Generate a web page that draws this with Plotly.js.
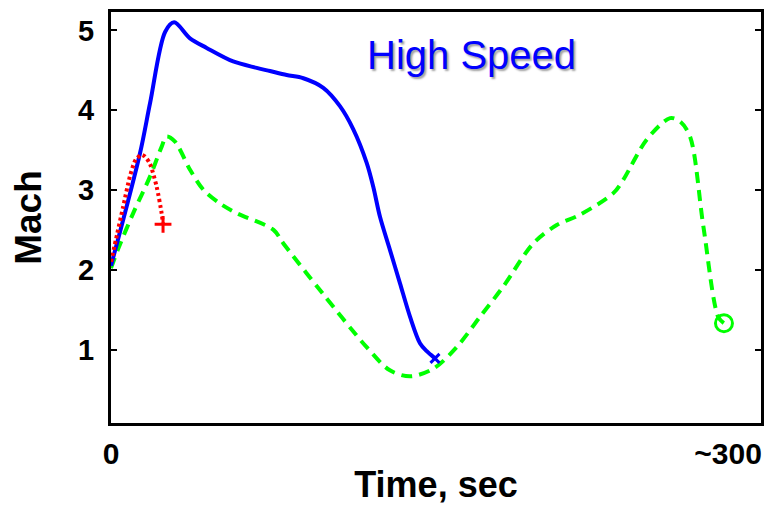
<!DOCTYPE html>
<html>
<head>
<meta charset="utf-8">
<script src="https://cdn.plot.ly/plotly-3.0.1.min.js"></script>
<style>html,body{margin:0;padding:0;background:#fff;}</style>
</head>
<body>
<div id="chart" style="width:765px;height:505px;"></div>
<script>
// Blue (solid) trajectory
const blueT = [0, 14.1, 19, 26.3, 30.7, 38.4, 46.5, 59.4, 70.8, 77.3, 85.4, 93.5, 103.2, 111.3, 117.8, 124.3, 127.5, 130.8, 135.6, 140.5, 145.4, 150.2, 153.5, 157.5];
const blueM = [2.05, 3.46, 4.09, 4.98, 5.10, 4.90, 4.78, 4.61, 4.53, 4.49, 4.44, 4.40, 4.28, 4.05, 3.76, 3.34, 3.04, 2.66, 2.25, 1.83, 1.41, 1.08, 0.98, 0.89];
// Red (dotted) trajectory
const redT = [0, 3, 5.9, 9.2, 12, 14.9, 16.5, 18.9, 22.2, 24.6, 25.3];
const redM = [2.1, 2.45, 2.79, 3.17, 3.38, 3.44, 3.42, 3.33, 3.04, 2.71, 2.57];
// Green (dashed) trajectory
const greenT = [0, 3.6, 10.8, 19, 24.6, 27, 31, 38.5, 45, 53, 61, 79, 83.8, 103, 124.3, 135.6, 145.4, 156.7, 168, 179.4, 190.7, 205.3, 216.7, 228, 244.2, 249.1, 260.4, 271.8, 276.6, 281.5, 288, 295.2, 298];
const greenM = [2.02, 2.27, 2.71, 3.17, 3.54, 3.67, 3.61, 3.25, 3.0, 2.83, 2.71, 2.50, 2.33, 1.70, 1.03, 0.74, 0.665, 0.76, 1.03, 1.41, 1.79, 2.33, 2.56, 2.69, 2.96, 3.13, 3.63, 3.90, 3.86, 3.67, 2.54, 1.41, 1.33];
// Axis ticks
const yTicks = [1, 2, 3, 4, 5];
const xTickVals = [0, 300];
const xTickText = ["0", "~300"];

const last = a => [a[a.length - 1]];
const FONT = "Liberation Sans, Arial, Helvetica, sans-serif";

const traces = [
  {x: greenT, y: greenM, mode: "lines", line: {color: "#00ff00", width: 4, dash: "11px,7px", shape: "spline", smoothing: 0.9}, hoverinfo: "skip"},
  {x: blueT, y: blueM, mode: "lines", line: {color: "#0000ff", width: 4, shape: "spline", smoothing: 0.9}, hoverinfo: "skip"},
  {x: redT, y: redM, mode: "lines", line: {color: "#ff0000", width: 4, dash: "3px,3px", shape: "spline", smoothing: 0.7}, hoverinfo: "skip"},
  {x: last(blueT), y: last(blueM), mode: "markers", marker: {symbol: "x-thin-open", size: 9, color: "#0000ff", line: {color: "#0000ff", width: 3}}, hoverinfo: "skip"},
  {x: last(redT), y: last(redM), mode: "markers", marker: {symbol: "cross-thin-open", size: 12, color: "#ff0000", line: {color: "#ff0000", width: 3}}, hoverinfo: "skip"},
  {x: last(greenT), y: last(greenM), mode: "markers", marker: {symbol: "circle-open", size: 17, color: "#00ff00", line: {color: "#00ff00", width: 3}}, hoverinfo: "skip"}
];

const layout = {
  width: 765, height: 505,
  margin: {l: 111, r: 4, t: 12, b: 82},
  paper_bgcolor: "#fff", plot_bgcolor: "#fff",
  showlegend: false,
  font: {family: FONT, color: "#000"},
  xaxis: {
    range: [0, 316], tickvals: xTickVals, ticktext: xTickText,
    showgrid: false, zeroline: false,
    showline: true, linecolor: "#000", linewidth: 3, mirror: true,
    ticks: "",
    tickfont: {family: FONT, size: 30, weight: "bold", color: "#000"},
    ticklabelstandoff: 2,
    title: {text: "Time, sec", font: {family: FONT, size: 36, weight: "bold", color: "#000"}, standoff: 10},
    fixedrange: true
  },
  yaxis: {
    range: [0.08, 5.23], tickvals: yTicks,
    showgrid: false, zeroline: false,
    showline: true, linecolor: "#000", linewidth: 3, mirror: "ticks",
    ticks: "inside", ticklen: 6, tickwidth: 2, tickcolor: "#000",
    tickfont: {family: FONT, size: 29, weight: "bold", color: "#000"},
    ticklabelstandoff: 8,
    title: {text: "Mach", font: {family: FONT, size: 37, weight: "bold", color: "#000"}, standoff: 26},
    fixedrange: true
  },
  annotations: [
    {xref: "paper", yref: "paper", x: 0.554, y: 0.895, xanchor: "center", yanchor: "middle", showarrow: false,
     text: "High Speed", font: {family: FONT, size: 40, color: "#0000ff", shadow: "2px 2px 2px #a0a0a0"}}
  ]
};

Plotly.newPlot("chart", traces, layout, {staticPlot: true, displayModeBar: false});
</script>
</body>
</html>
